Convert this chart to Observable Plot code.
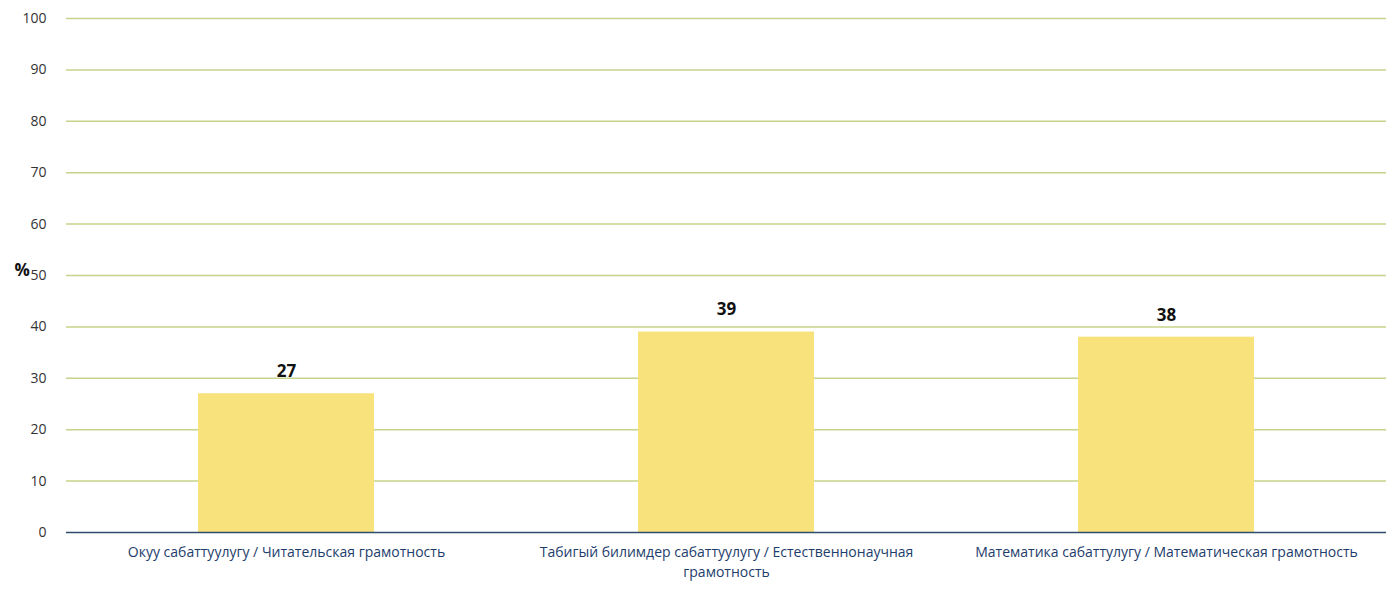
<!DOCTYPE html>
<html>
<head>
<meta charset="utf-8">
<script src="https://cdn.jsdelivr.net/npm/d3@7"></script>
<script src="https://cdn.jsdelivr.net/npm/@observablehq/plot@0.6"></script>
<style>
  html, body { margin: 0; padding: 0; background: #ffffff; }
  #chart svg { display: block; }
</style>
</head>
<body>
<div id="chart"></div>
<script>
const categories = [
  "Окуу сабаттуулугу / Читательская грамотность",
  "Табигый билимдер сабаттуулугу / Естественнонаучная грамотность",
  "Математика сабаттулугу / Математическая грамотность"
];
const values = [27, 39, 38];
const yTicks = [0, 10, 20, 30, 40, 50, 60, 70, 80, 90, 100];
const yLabel = "%";

const data = categories.map((c, i) => ({category: c, value: values[i]}));

const chart = Plot.plot({
  width: 1386,
  height: 589,
  marginLeft: 66,
  marginRight: 0,
  marginTop: 18,
  marginBottom: 57,
  style: {fontFamily: "'Open Sans', sans-serif", background: "#ffffff"},
  x: {domain: categories, paddingInner: 0.6, paddingOuter: 0.3},
  y: {domain: [0, 100]},
  marks: [
    Plot.ruleY(yTicks.filter(d => d > 0), {stroke: "#c6d38a", strokeWidth: 1.5}),
    Plot.barY(data, {x: "category", y: "value", fill: "#f7e27c"}),
    Plot.ruleY([0], {stroke: "#2e4d6e", strokeWidth: 1.5}),
    Plot.text(data, {x: "category", y: "value", text: d => String(d.value), dy: -22, fontSize: 17, fontWeight: "bold", fill: "#111"}),
    Plot.axisY({ticks: yTicks, tickSize: 0, tickPadding: 20, fontSize: 14, color: "#333", label: null}),
    Plot.axisX({tickSize: 0, tickPadding: 10, fontSize: 14, color: "#1d3d6b", lineWidth: 30, lineHeight: 1.45, fontWeight: 500, label: null}),
    Plot.text([yLabel], {frameAnchor: "left", dx: -52, dy: -5, fontSize: 17, fontWeight: "bold", fill: "#111"})
  ]
});
document.getElementById("chart").appendChild(chart);
</script>
</body>
</html>
